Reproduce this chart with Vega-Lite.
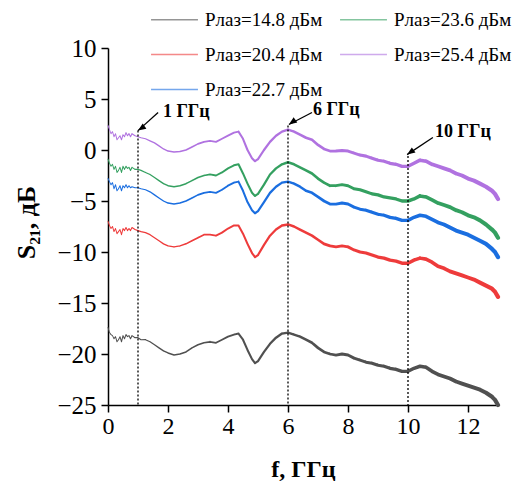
{
  "$schema": "https://vega.github.io/schema/vega-lite/v6.json",
  "width": 390,
  "height": 357,
  "autosize": {"type": "none"},
  "padding": {"left": 108, "top": 48, "right": 29, "bottom": 78},
  "background": "white",
  "config": {
    "view": {"stroke": null},
    "font": "Liberation Serif",
    "axis": {
      "grid": false,
      "domainColor": "black",
      "domainWidth": 1.5,
      "tickColor": "black",
      "tickWidth": 1.5,
      "labelFont": "Liberation Serif",
      "labelColor": "black",
      "labelFlush": false,
      "titleFont": "Liberation Serif",
      "titleColor": "black",
      "titleFontWeight": "bold"
    },
    "legend": {
      "labelFont": "Liberation Serif",
      "labelColor": "black"
    }
  },
  "datasets": {
    "c": [
      {"f": 0, "v": 2.4, "gr": -0.9, "b": -2.8, "r": -7.0, "g": -17.4},
      {"f": 0.05, "v": 2.0, "gr": -1.3, "b": -3.1, "r": -7.4, "g": -17.9},
      {"f": 0.1, "v": 1.6, "gr": -1.6, "b": -3.4, "r": -7.7, "g": -18.1},
      {"f": 0.15, "v": 1.8, "gr": -1.4, "b": -3.2, "r": -7.5, "g": -18.2},
      {"f": 0.2, "v": 1.3, "gr": -1.9, "b": -3.8, "r": -8.0, "g": -18.5},
      {"f": 0.25, "v": 1.6, "gr": -1.6, "b": -3.4, "r": -7.7, "g": -18.3},
      {"f": 0.3, "v": 1.0, "gr": -2.2, "b": -4.0, "r": -8.2, "g": -18.8},
      {"f": 0.35, "v": 1.2, "gr": -2.0, "b": -3.8, "r": -8.0, "g": -18.6},
      {"f": 0.4, "v": 1.4, "gr": -1.7, "b": -3.5, "r": -7.8, "g": -18.3},
      {"f": 0.45, "v": 1.0, "gr": -2.2, "b": -4.0, "r": -8.3, "g": -18.8},
      {"f": 0.5, "v": 1.5, "gr": -1.6, "b": -3.5, "r": -7.7, "g": -18.2},
      {"f": 0.55, "v": 1.3, "gr": -1.9, "b": -3.7, "r": -7.9, "g": -18.5},
      {"f": 0.6, "v": 1.7, "gr": -1.6, "b": -3.4, "r": -7.6, "g": -18.1},
      {"f": 0.65, "v": 1.4, "gr": -1.8, "b": -3.7, "r": -7.9, "g": -18.3},
      {"f": 0.7, "v": 1.6, "gr": -1.7, "b": -3.5, "r": -7.7, "g": -18.2},
      {"f": 0.75, "v": 1.3, "gr": -2.0, "b": -3.7, "r": -7.9, "g": -18.5},
      {"f": 0.8, "v": 1.6, "gr": -1.7, "b": -3.6, "r": -7.6, "g": -18.2},
      {"f": 0.9, "v": 1.4, "gr": -1.9, "b": -3.7, "r": -7.8, "g": -18.4},
      {"f": 1.0, "v": 1.3, "gr": -1.9, "b": -3.7, "r": -7.9, "g": -18.4},
      {"f": 1.1, "v": 1.2, "gr": -2.0, "b": -3.8, "r": -8.0, "g": -18.6},
      {"f": 1.25, "v": 1.1, "gr": -2.2, "b": -3.9, "r": -8.1, "g": -18.6},
      {"f": 1.4, "v": 0.9, "gr": -2.4, "b": -4.1, "r": -8.3, "g": -18.8},
      {"f": 1.55, "v": 0.7, "gr": -2.7, "b": -4.4, "r": -8.6, "g": -19.1},
      {"f": 1.7, "v": 0.4, "gr": -3.0, "b": -4.7, "r": -8.9, "g": -19.4},
      {"f": 1.85, "v": 0.1, "gr": -3.3, "b": -5.0, "r": -9.2, "g": -19.7},
      {"f": 2.0, "v": -0.1, "gr": -3.5, "b": -5.2, "r": -9.4, "g": -19.9},
      {"f": 2.2, "v": -0.2, "gr": -3.6, "b": -5.3, "r": -9.5, "g": -20.1},
      {"f": 2.4, "v": -0.15, "gr": -3.5, "b": -5.2, "r": -9.4, "g": -20.0},
      {"f": 2.6, "v": 0.0, "gr": -3.3, "b": -5.0, "r": -9.2, "g": -19.8},
      {"f": 2.8, "v": 0.3, "gr": -3.0, "b": -4.7, "r": -8.9, "g": -19.4},
      {"f": 3.0, "v": 0.6, "gr": -2.7, "b": -4.4, "r": -8.6, "g": -19.1},
      {"f": 3.2, "v": 0.8, "gr": -2.5, "b": -4.2, "r": -8.3, "g": -18.9},
      {"f": 3.4, "v": 0.9, "gr": -2.4, "b": -4.1, "r": -8.3, "g": -18.8},
      {"f": 3.6, "v": 0.8, "gr": -2.5, "b": -4.2, "r": -8.4, "g": -18.9},
      {"f": 3.8, "v": 1.1, "gr": -2.2, "b": -3.9, "r": -8.1, "g": -18.6},
      {"f": 4.0, "v": 1.4, "gr": -1.8, "b": -3.5, "r": -7.7, "g": -18.3},
      {"f": 4.2, "v": 1.7, "gr": -1.5, "b": -3.2, "r": -7.4, "g": -18.1},
      {"f": 4.35, "v": 1.8, "gr": -1.4, "b": -3.1, "r": -7.4, "g": -18.0},
      {"f": 4.5, "v": 1.1, "gr": -2.3, "b": -4.0, "r": -8.2, "g": -18.6},
      {"f": 4.65, "v": 0.0, "gr": -3.3, "b": -5.1, "r": -9.2, "g": -19.6},
      {"f": 4.8, "v": -0.8, "gr": -4.2, "b": -5.9, "r": -10.1, "g": -20.5},
      {"f": 4.9, "v": -1.1, "gr": -4.5, "b": -6.2, "r": -10.5, "g": -20.9},
      {"f": 5.0, "v": -0.9, "gr": -4.3, "b": -6.0, "r": -10.3, "g": -20.7},
      {"f": 5.2, "v": 0.0, "gr": -3.4, "b": -5.1, "r": -9.3, "g": -19.8},
      {"f": 5.4, "v": 0.8, "gr": -2.4, "b": -4.2, "r": -8.4, "g": -19.0},
      {"f": 5.6, "v": 1.4, "gr": -1.8, "b": -3.6, "r": -7.8, "g": -18.4},
      {"f": 5.8, "v": 1.8, "gr": -1.4, "b": -3.2, "r": -7.4, "g": -18.0},
      {"f": 6.0, "v": 2.0, "gr": -1.2, "b": -3.1, "r": -7.3, "g": -17.9},
      {"f": 6.2, "v": 1.8, "gr": -1.4, "b": -3.3, "r": -7.5, "g": -18.1},
      {"f": 6.4, "v": 1.5, "gr": -1.7, "b": -3.6, "r": -7.8, "g": -18.3},
      {"f": 6.6, "v": 1.2, "gr": -2.0, "b": -4.0, "r": -8.1, "g": -18.6},
      {"f": 6.8, "v": 1.0, "gr": -2.3, "b": -4.2, "r": -8.4, "g": -18.9},
      {"f": 7.0, "v": 0.5, "gr": -2.8, "b": -4.6, "r": -8.8, "g": -19.4},
      {"f": 7.2, "v": 0.1, "gr": -3.2, "b": -5.0, "r": -9.2, "g": -19.8},
      {"f": 7.4, "v": -0.1, "gr": -3.5, "b": -5.3, "r": -9.4, "g": -20.0},
      {"f": 7.6, "v": -0.1, "gr": -3.5, "b": -5.3, "r": -9.5, "g": -20.1},
      {"f": 7.8, "v": -0.05, "gr": -3.4, "b": -5.2, "r": -9.4, "g": -20.0},
      {"f": 8.0, "v": -0.1, "gr": -3.5, "b": -5.3, "r": -9.5, "g": -20.1},
      {"f": 8.2, "v": -0.3, "gr": -3.8, "b": -5.6, "r": -9.8, "g": -20.4},
      {"f": 8.4, "v": -0.5, "gr": -3.9, "b": -5.8, "r": -10.0, "g": -20.6},
      {"f": 8.6, "v": -0.6, "gr": -4.1, "b": -5.9, "r": -10.1, "g": -20.8},
      {"f": 8.8, "v": -0.8, "gr": -4.3, "b": -6.1, "r": -10.3, "g": -20.9},
      {"f": 9.0, "v": -1.0, "gr": -4.4, "b": -6.3, "r": -10.5, "g": -21.1},
      {"f": 9.2, "v": -1.1, "gr": -4.6, "b": -6.4, "r": -10.6, "g": -21.2},
      {"f": 9.4, "v": -1.3, "gr": -4.7, "b": -6.6, "r": -10.8, "g": -21.4},
      {"f": 9.6, "v": -1.4, "gr": -4.8, "b": -6.7, "r": -10.9, "g": -21.5},
      {"f": 9.8, "v": -1.6, "gr": -5.0, "b": -6.9, "r": -11.1, "g": -21.7},
      {"f": 10.0, "v": -1.6, "gr": -5.0, "b": -6.9, "r": -11.1, "g": -21.7},
      {"f": 10.2, "v": -1.3, "gr": -4.8, "b": -6.6, "r": -10.8, "g": -21.4},
      {"f": 10.4, "v": -1.0, "gr": -4.5, "b": -6.4, "r": -10.6, "g": -21.2},
      {"f": 10.6, "v": -1.1, "gr": -4.6, "b": -6.5, "r": -10.7, "g": -21.3},
      {"f": 10.8, "v": -1.4, "gr": -4.9, "b": -6.8, "r": -11.0, "g": -21.7},
      {"f": 11.0, "v": -1.6, "gr": -5.2, "b": -7.1, "r": -11.4, "g": -22.0},
      {"f": 11.2, "v": -1.8, "gr": -5.4, "b": -7.3, "r": -11.6, "g": -22.2},
      {"f": 11.4, "v": -2.0, "gr": -5.6, "b": -7.6, "r": -11.9, "g": -22.4},
      {"f": 11.6, "v": -2.3, "gr": -5.9, "b": -7.9, "r": -12.1, "g": -22.7},
      {"f": 11.8, "v": -2.5, "gr": -6.1, "b": -8.1, "r": -12.3, "g": -22.9},
      {"f": 12.0, "v": -2.8, "gr": -6.4, "b": -8.3, "r": -12.5, "g": -23.1},
      {"f": 12.2, "v": -3.0, "gr": -6.6, "b": -8.6, "r": -12.7, "g": -23.3},
      {"f": 12.4, "v": -3.3, "gr": -6.9, "b": -8.9, "r": -13.0, "g": -23.5},
      {"f": 12.6, "v": -3.6, "gr": -7.3, "b": -9.2, "r": -13.3, "g": -23.8},
      {"f": 12.8, "v": -4.0, "gr": -7.8, "b": -9.7, "r": -13.6, "g": -24.2},
      {"f": 12.9, "v": -4.3, "gr": -8.1, "b": -10.0, "r": -13.9, "g": -24.5},
      {"f": 13.0, "v": -4.8, "gr": -8.6, "b": -10.5, "r": -14.4, "g": -25.0}
    ],
    "ann": [
      {"x": 1, "top": 1.9, "bot": -25, "ax": 1.67, "ay": 3.68, "tx": 1.0, "ty": 1.9, "lx": 1.83, "ly": 3.77, "label": "1 ГГц"},
      {"x": 6, "top": 2.4, "bot": -25, "ax": 6.8, "ay": 3.68, "tx": 6.03, "ty": 2.5, "lx": 6.83, "ly": 3.97, "label": "6 ГГц"},
      {"x": 10, "top": -0.6, "bot": -25, "ax": 10.83, "ay": 1.23, "tx": 9.97, "ty": -0.45, "lx": 10.9, "ly": 1.72, "label": "10 ГГц"}
    ]
  },
  "layer": [
    {
      "data": {"name": "c"},
      "transform": [{"fold": ["g", "r", "b", "gr", "v"], "as": ["series", "s"]}],
      "mark": {"type": "trail"},
      "encoding": {
        "x": {
          "field": "f", "type": "quantitative",
          "scale": {"domain": [0, 13], "nice": false, "zero": false},
          "axis": {
            "title": "f, ГГц",
            "titleFontSize": 24,
            "titlePadding": 19,
            "labelFontSize": 24,
            "values": [0, 1, 2, 3, 4, 5, 6, 7, 8, 9, 10, 11, 12],
            "labelExpr": "datum.value % 2 === 0 ? datum.label : ''",
            "tickSize": {"condition": {"test": "datum.value % 2 !== 0", "value": 4}, "value": 7},
            "labelPadding": 2
          }
        },
        "y": {
          "field": "s", "type": "quantitative",
          "scale": {"domain": [-25, 10], "nice": false, "zero": false},
          "axis": {
            "title": "S₂₁, дБ",
            "titleFontSize": 26,
            "titlePadding": 17,
            "titleY": 174,
            "labelFontSize": 25,
            "values": [-25, -22.5, -20, -17.5, -15, -12.5, -10, -7.5, -5, -2.5, 0, 2.5, 5, 7.5, 10],
            "labelExpr": "datum.value % 5 === 0 ? datum.label : ''",
            "tickSize": {"condition": {"test": "datum.value % 5 !== 0", "value": 4}, "value": 7},
            "labelPadding": 5
          }
        },
        "color": {
          "field": "series", "type": "nominal",
          "scale": {
            "domain": ["g", "r", "b", "gr", "v"],
            "range": ["#505050", "#ee3b3b", "#1a6ee0", "#34a060", "#b072e0"]
          },
          "legend": {
            "title": null,
            "orient": "none",
            "legendX": 42,
            "legendY": -53,
            "columns": 2,
            "columnPadding": 14,
            "rowPadding": -1,
            "symbolType": "stroke",
            "symbolSize": 2200,
            "symbolStrokeWidth": 1.5,
            "symbolOpacity": 0.6,
            "labelFontSize": 19,
            "labelOffset": 6,
            "labelExpr": "datum.value == 'g' ? 'Pлаз=14.8 дБм' : datum.value == 'r' ? 'Pлаз=20.4 дБм' : datum.value == 'b' ? 'Pлаз=22.7 дБм' : datum.value == 'gr' ? 'Pлаз=23.6 дБм' : 'Pлаз=25.4 дБм'"
          }
        },
        "size": {
          "field": "f", "type": "quantitative",
          "scale": {"domain": [0, 13], "range": [0.9, 4.2]},
          "legend": null
        }
      }
    },
    {
      "data": {"name": "ann"},
      "mark": {"type": "rule", "color": "black", "strokeWidth": 1.3, "strokeDash": [2, 2]},
      "encoding": {
        "x": {"field": "x", "type": "quantitative"},
        "y": {"field": "top", "type": "quantitative"},
        "y2": {"field": "bot"}
      }
    },
    {
      "data": {"name": "ann"},
      "mark": {"type": "rule", "color": "black", "strokeWidth": 1.3},
      "encoding": {
        "x": {"field": "ax", "type": "quantitative"},
        "y": {"field": "ay", "type": "quantitative"},
        "x2": {"field": "tx"},
        "y2": {"field": "ty"}
      }
    },
    {
      "data": {"name": "ann"},
      "mark": {"type": "point", "shape": "M0,0L-0.4,1L0.4,1Z", "filled": true, "color": "black", "opacity": 1, "size": 256, "angle": 235},
      "encoding": {
        "x": {"field": "tx", "type": "quantitative"},
        "y": {"field": "ty", "type": "quantitative"}
      }
    },
    {
      "data": {"name": "ann"},
      "mark": {"type": "text", "align": "left", "baseline": "middle", "fontWeight": "bold", "fontSize": 18, "color": "black"},
      "encoding": {
        "x": {"field": "lx", "type": "quantitative"},
        "y": {"field": "ly", "type": "quantitative"},
        "text": {"field": "label"}
      }
    }
  ]
}
